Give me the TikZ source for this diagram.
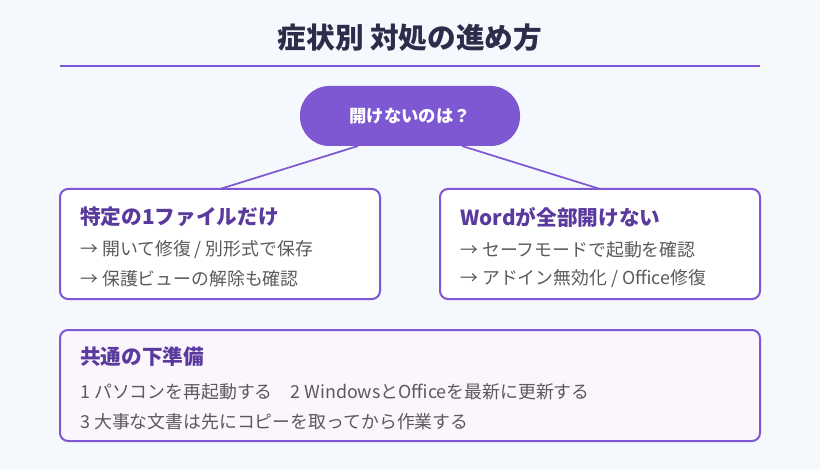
\documentclass[tikz,border=0pt]{standalone}
\usepackage{fontspec}
\setmainfont{Noto Sans CJK JP}
\usetikzlibrary{positioning}
\definecolor{bgcol}{HTML}{F5F8FC}
\definecolor{accent}{HTML}{7E57D2}
\definecolor{headcol}{HTML}{5B3A9E}
\definecolor{titlecol}{HTML}{2B2D4A}
\definecolor{bodycol}{HTML}{5A5A5A}
\definecolor{notecol}{HTML}{FBF5FE}
\tikzset{
  card/.style={draw=accent, line width=1.5pt, rounded corners=6pt, fill=white},
  head/.style={anchor=west, inner sep=0pt, text=headcol, font=\fontsize{15.5}{18}\selectfont\bfseries},
  body/.style={anchor=west, inner sep=0pt, text=bodycol, font=\fontsize{13.4}{16}\selectfont},
  link/.style={draw=accent, line width=1.3pt}
}
\begin{document}
\begin{tikzpicture}[x=0.75pt, y=-0.75pt]
	\fill[bgcol] (0,0) rectangle (820,470);
	\useasboundingbox (0,0) rectangle (820,470);
	\node[text=titlecol, font=\fontsize{21.5}{25}\selectfont\bfseries] (title) at (410,38) {症状別 対処の進め方};
	\draw[accent, line width=1.6pt] (60,66) -- (760,66);
	% question pill
	\node[fill=accent, rounded corners=22pt, minimum width=165pt, minimum height=45pt, text=white, font=\fontsize{13}{15}\selectfont\bfseries] (ask) at (410,116) {開けないのは？};
	% cases
	\draw[card] (60,189) rectangle (380,299);
	\draw[card] (440,189) rectangle (760,299);
	\coordinate (lefttop) at (220,189);
	\coordinate (righttop) at (600,189);
	\coordinate (askl) at (358,146);
	\coordinate (askr) at (462,146);
	\draw[link] (askl) -- (lefttop);
	\draw[link] (askr) -- (righttop);
	\node[head] (onefile) at (80,217) {特定の1ファイルだけ};
	\node[body] (onea) at (80,250) {→ 開いて修復 / 別形式で保存};
	\node[body] (oneb) at (80,279) {→ 保護ビューの解除も確認};
	\node[head] (allword) at (460,217) {Wordが全部開けない};
	\node[body] (alla) at (460,250) {→ セーフモードで起動を確認};
	\node[body] (allb) at (460,279) {→ アドイン無効化 / Office修復};
	% common preparation
	\draw[card, fill=notecol] (60,330) rectangle (760,441);
	\node[head] (prep) at (80,357) {共通の下準備};
	\node[body] (prepa) at (80,392) {1 パソコンを再起動する\quad 2 WindowsとOfficeを最新に更新する};
	\node[body] (prepb) at (80,422) {3 大事な文書は先にコピーを取ってから作業する};
\end{tikzpicture}
\end{document}
